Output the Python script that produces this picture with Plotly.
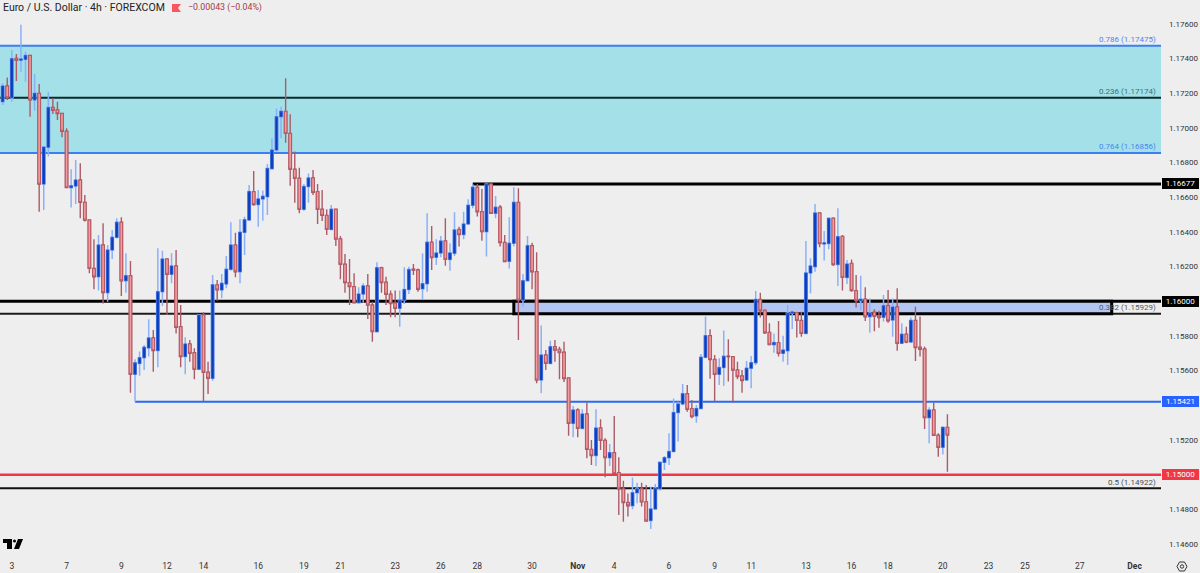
import plotly.graph_objects as go

# EUR/USD 4h candles
opens = [
    1.17152, 1.17242, 1.17175, 1.17402, 1.17391, 1.17396, 1.17419, 1.17162, 1.17200, 1.16677,
    1.16889, 1.17119, 1.17104, 1.17084, 1.16981, 1.16656, 1.16665, 1.16700, 1.16571, 1.16469,
    1.16190, 1.16142, 1.16325, 1.16050, 1.16296, 1.16369, 1.16456, 1.16119, 1.16148, 1.15579,
    1.15642, 1.15675, 1.15731, 1.15789, 1.15716, 1.16056, 1.16244, 1.16156, 1.16204, 1.15854,
    1.15681, 1.15754, 1.15704, 1.15608, 1.15921, 1.15591, 1.15556, 1.16095, 1.16066, 1.16100,
    1.16185, 1.16325, 1.16171, 1.16398, 1.16469, 1.16633, 1.16558, 1.16591, 1.16604, 1.16765,
    1.16873, 1.17065, 1.17096, 1.16969, 1.16762, 1.16710, 1.16531, 1.16662, 1.16712, 1.16633,
    1.16531, 1.16496, 1.16415, 1.16531, 1.16360, 1.16214, 1.16108, 1.16085, 1.15992, 1.16042,
    1.16089, 1.15979, 1.15825, 1.16194, 1.16110, 1.16041, 1.15990, 1.15960, 1.16006, 1.16068,
    1.16185, 1.16181, 1.16073, 1.16102, 1.16341, 1.16254, 1.16279, 1.16348, 1.16242, 1.16277,
    1.16414, 1.16385, 1.16446, 1.16554, 1.16658, 1.16517, 1.16402, 1.16677, 1.16508, 1.16543,
    1.16339, 1.16231, 1.16335, 1.16571, 1.16008, 1.16119, 1.16321, 1.16171, 1.15546, 1.15690,
    1.15642, 1.15738, 1.15723, 1.15706, 1.15558, 1.15296, 1.15373, 1.15267, 1.15350, 1.15146,
    1.15110, 1.15269, 1.15198, 1.15098, 1.15127, 1.15012, 1.14918, 1.14839, 1.14821, 1.14896,
    1.14918, 1.14843, 1.14735, 1.14802, 1.14919, 1.15071, 1.15098, 1.15133, 1.15358, 1.15408,
    1.15467, 1.15381, 1.15339, 1.15381, 1.15677, 1.15802, 1.15664, 1.15579, 1.15618, 1.15683,
    1.15681, 1.15604, 1.15569, 1.15546, 1.15614, 1.15646, 1.16011, 1.15948, 1.15821, 1.15750,
    1.15762, 1.15700, 1.15715, 1.15931, 1.15935, 1.15890, 1.15815, 1.16164, 1.16200, 1.16510,
    1.16331, 1.16333, 1.16479, 1.16212, 1.16375, 1.16138, 1.16219, 1.16062, 1.16004, 1.16013,
    1.15911, 1.15937, 1.15915, 1.15908, 1.15975, 1.15892, 1.15967, 1.15758, 1.15810, 1.15765,
    1.15890, 1.15735, 1.15725, 1.15329, 1.15373, 1.15227, 1.15158, 1.15273,
]
highs = [
    1.17258, 1.17292, 1.17450, 1.17427, 1.17595, 1.17440, 1.17421, 1.17312, 1.17254, 1.16892,
    1.17208, 1.17171, 1.17152, 1.17088, 1.16998, 1.16762, 1.16815, 1.16796, 1.16614, 1.16473,
    1.16358, 1.16383, 1.16450, 1.16325, 1.16412, 1.16479, 1.16485, 1.16277, 1.16233, 1.15666,
    1.15710, 1.15748, 1.15897, 1.15835, 1.16306, 1.16292, 1.16248, 1.16277, 1.16296, 1.15979,
    1.15793, 1.15777, 1.15729, 1.15925, 1.15937, 1.15652, 1.16152, 1.16123, 1.16158, 1.16262,
    1.16456, 1.16396, 1.16473, 1.16488, 1.16671, 1.16752, 1.16642, 1.16639, 1.16792, 1.16941,
    1.17113, 1.17123, 1.17287, 1.17079, 1.16864, 1.16771, 1.16677, 1.16738, 1.16758, 1.16677,
    1.16642, 1.16531, 1.16556, 1.16533, 1.16377, 1.16273, 1.16244, 1.16162, 1.16081, 1.16104,
    1.16158, 1.15998, 1.16225, 1.16200, 1.16142, 1.16062, 1.16062, 1.16062, 1.16196, 1.16200,
    1.16216, 1.16190, 1.16277, 1.16508, 1.16435, 1.16358, 1.16377, 1.16479, 1.16335, 1.16514,
    1.16431, 1.16517, 1.16589, 1.16677, 1.16677, 1.16648, 1.16681, 1.16681, 1.16608, 1.16556,
    1.16383, 1.16485, 1.16658, 1.16652, 1.16158, 1.16377, 1.16338, 1.16283, 1.15860, 1.15719,
    1.15773, 1.15777, 1.15738, 1.15767, 1.15560, 1.15396, 1.15383, 1.15377, 1.15416, 1.15200,
    1.15377, 1.15319, 1.15210, 1.15177, 1.15338, 1.15100, 1.14965, 1.14892, 1.14983, 1.14954,
    1.14954, 1.14941, 1.14931, 1.14946, 1.15075, 1.15108, 1.15239, 1.15440, 1.15421, 1.15523,
    1.15517, 1.15431, 1.15402, 1.15696, 1.15912, 1.15839, 1.15690, 1.15671, 1.15831, 1.15781,
    1.15685, 1.15652, 1.15604, 1.15656, 1.15685, 1.16060, 1.16050, 1.15954, 1.15873, 1.15815,
    1.15887, 1.15802, 1.15979, 1.15946, 1.15940, 1.15940, 1.16348, 1.16248, 1.16562, 1.16512,
    1.16406, 1.16483, 1.16485, 1.16537, 1.16383, 1.16238, 1.16242, 1.16152, 1.16148, 1.16081,
    1.16017, 1.15954, 1.15946, 1.16037, 1.16065, 1.16017, 1.16075, 1.15873, 1.15854, 1.15906,
    1.15969, 1.15912, 1.15739, 1.15389, 1.15417, 1.15239, 1.15277, 1.15348,
]
lows = [
    1.17133, 1.17162, 1.17152, 1.17271, 1.17325, 1.17267, 1.17065, 1.17100, 1.16517, 1.16527,
    1.16835, 1.17081, 1.17046, 1.16946, 1.16652, 1.16542, 1.16562, 1.16479, 1.16460, 1.16162,
    1.16069, 1.16062, 1.15988, 1.15998, 1.16244, 1.16363, 1.16031, 1.16050, 1.15473, 1.15421,
    1.15571, 1.15604, 1.15681, 1.15594, 1.15620, 1.15973, 1.15921, 1.16104, 1.15815, 1.15620,
    1.15579, 1.15652, 1.15550, 1.15604, 1.15421, 1.15466, 1.15542, 1.16004, 1.16018, 1.16075,
    1.16177, 1.16139, 1.16104, 1.16267, 1.16465, 1.16552, 1.16431, 1.16465, 1.16498, 1.16762,
    1.16864, 1.16941, 1.16915, 1.16667, 1.16569, 1.16508, 1.16523, 1.16569, 1.16613, 1.16446,
    1.16464, 1.16383, 1.16411, 1.16319, 1.16127, 1.16050, 1.15979, 1.15988, 1.15988, 1.15992,
    1.15898, 1.15767, 1.15821, 1.16050, 1.15979, 1.15908, 1.15908, 1.15854, 1.15985, 1.16042,
    1.16152, 1.16056, 1.16008, 1.16056, 1.16181, 1.16210, 1.16254, 1.16206, 1.16177, 1.16262,
    1.16316, 1.16358, 1.16444, 1.16537, 1.16489, 1.16350, 1.16258, 1.16504, 1.16479, 1.16316,
    1.16225, 1.16189, 1.16316, 1.15777, 1.15969, 1.16114, 1.16069, 1.15527, 1.15469, 1.15604,
    1.15639, 1.15652, 1.15550, 1.15535, 1.15225, 1.15216, 1.15216, 1.15262, 1.15094, 1.15056,
    1.15050, 1.15142, 1.14985, 1.15050, 1.15004, 1.14767, 1.14729, 1.14758, 1.14800, 1.14835,
    1.14816, 1.14729, 1.14687, 1.14800, 1.14908, 1.15027, 1.15056, 1.15129, 1.15192, 1.15400,
    1.15363, 1.15325, 1.15300, 1.15377, 1.15671, 1.15554, 1.15421, 1.15517, 1.15512, 1.15537,
    1.15415, 1.15550, 1.15473, 1.15543, 1.15498, 1.15633, 1.15906, 1.15812, 1.15746, 1.15704,
    1.15681, 1.15652, 1.15633, 1.15840, 1.15792, 1.15796, 1.15812, 1.16046, 1.16171, 1.16312,
    1.16235, 1.16300, 1.16204, 1.16089, 1.16062, 1.16100, 1.16056, 1.15965, 1.15950, 1.15887,
    1.15819, 1.15827, 1.15848, 1.15883, 1.15877, 1.15796, 1.15715, 1.15754, 1.15758, 1.15762,
    1.15656, 1.15681, 1.15264, 1.15181, 1.15223, 1.15104, 1.15117, 1.15017,
]
closes = [
    1.17242, 1.17175, 1.17400, 1.17391, 1.17398, 1.17419, 1.17162, 1.17200, 1.16677, 1.16890,
    1.17119, 1.17102, 1.17083, 1.16981, 1.16656, 1.16667, 1.16700, 1.16571, 1.16469, 1.16190,
    1.16142, 1.16325, 1.16050, 1.16296, 1.16369, 1.16456, 1.16119, 1.16148, 1.15579, 1.15645,
    1.15675, 1.15735, 1.15789, 1.15716, 1.16056, 1.16244, 1.16156, 1.16204, 1.15850, 1.15681,
    1.15754, 1.15700, 1.15608, 1.15921, 1.15591, 1.15556, 1.16095, 1.16066, 1.16104, 1.16185,
    1.16325, 1.16171, 1.16398, 1.16471, 1.16633, 1.16558, 1.16591, 1.16606, 1.16767, 1.16873,
    1.17065, 1.17096, 1.16969, 1.16762, 1.16710, 1.16531, 1.16662, 1.16712, 1.16629, 1.16531,
    1.16496, 1.16415, 1.16531, 1.16360, 1.16214, 1.16108, 1.16085, 1.15992, 1.16042, 1.16089,
    1.15979, 1.15825, 1.16194, 1.16108, 1.16041, 1.15987, 1.15960, 1.16006, 1.16068, 1.16183,
    1.16181, 1.16069, 1.16102, 1.16341, 1.16252, 1.16279, 1.16348, 1.16242, 1.16279, 1.16412,
    1.16385, 1.16446, 1.16554, 1.16658, 1.16517, 1.16402, 1.16677, 1.16508, 1.16543, 1.16339,
    1.16229, 1.16335, 1.16571, 1.16008, 1.16119, 1.16321, 1.16171, 1.15546, 1.15690, 1.15642,
    1.15738, 1.15719, 1.15704, 1.15554, 1.15296, 1.15373, 1.15267, 1.15350, 1.15146, 1.15110,
    1.15269, 1.15198, 1.15098, 1.15127, 1.15006, 1.14918, 1.14839, 1.14821, 1.14896, 1.14918,
    1.14843, 1.14733, 1.14802, 1.14921, 1.15071, 1.15098, 1.15133, 1.15358, 1.15408, 1.15467,
    1.15377, 1.15335, 1.15381, 1.15677, 1.15802, 1.15664, 1.15579, 1.15618, 1.15683, 1.15681,
    1.15604, 1.15566, 1.15543, 1.15614, 1.15646, 1.16011, 1.15946, 1.15819, 1.15750, 1.15762,
    1.15700, 1.15719, 1.15931, 1.15939, 1.15890, 1.15815, 1.16164, 1.16204, 1.16510, 1.16333,
    1.16337, 1.16479, 1.16212, 1.16373, 1.16138, 1.16215, 1.16062, 1.16004, 1.16012, 1.15911,
    1.15931, 1.15913, 1.15906, 1.15975, 1.15888, 1.15967, 1.15758, 1.15810, 1.15765, 1.15890,
    1.15733, 1.15723, 1.15329, 1.15373, 1.15227, 1.15158, 1.15273, 1.15229,
]

# bar numbers where the date labels sit (the axis skips weekends)
date_ticks = [2, 14, 26, 36, 44, 56, 66, 74, 86, 96, 104, 116, 126, 134, 146, 156, 164, 176,
              186, 194, 206, 216, 224, 236, 248]
date_labels = ["3", "7", "9", "12", "14", "16", "19", "21", "23", "26", "28", "30", "<b>Nov</b>",
               "4", "6", "9", "11", "13", "16", "18", "20", "23", "25", "27", "<b>Dec</b>"]
# 1.150, 1.154 and 1.160 sit behind the price tags, so they are left out
price_ticks = [1.146, 1.148, 1.152, 1.156, 1.158,
               1.162, 1.164, 1.166, 1.168, 1.170, 1.172, 1.174, 1.176]

# fib levels
fib_names = ["0.786", "0.236", "0.764", "0.382", "0.5"]
fib_prices = [1.17475, 1.17174, 1.16856, 1.15929, 1.14922]
fib_colors = ["#4d84f2", "#3f6f78", "#4d84f2", "#5a5a5a", "#4f4f4f"]

# price tags on the right axis
tag_prices = [1.16677, 1.16000, 1.15421, 1.15000]
tag_colors = ["#000000", "#000000", "#2962ff", "#f23645"]

FONT = "Roboto"
W = 1200
H = 573
PLOT_W = 1161
PLOT_H = 552
XR = [-0.585, 253.8]
YR = [1.145538, 1.177385]


def px(x):
    return x / PLOT_W


def py(y):
    return 1 - y / PLOT_H


def poly(points):
    return "M" + "L".join(f"{px(a):.5f},{py(b):.5f}" for a, b in points) + "Z"


bars = list(range(len(opens)))
tops = [max(a, b) for a, b in zip(opens, closes)]
bottoms = [min(a, b) for a, b in zip(opens, closes)]

fig = go.Figure()
# wicks are paler than the bodies, so the bodies get their own trace on top
fig.add_trace(go.Candlestick(
    x=bars, open=opens, high=highs, low=lows, close=closes,
    increasing=dict(line=dict(color="#8cb0f8", width=1.5), fillcolor="#8cb0f8"),
    decreasing=dict(line=dict(color="#ab5c68", width=1.4), fillcolor="#ab5c68"),
    hoverinfo="skip", showlegend=False,
))
fig.add_trace(go.Candlestick(
    x=bars, open=opens, high=tops, low=bottoms, close=closes,
    increasing=dict(line=dict(color="#2459d8", width=0.7), fillcolor="#0b3cb5"),
    decreasing=dict(line=dict(color="#b04a58", width=0.7), fillcolor="#f29d9d"),
    hoverinfo="skip", showlegend=False,
))

shapes = []


def hline(y, color, width, x0=None):
    # x0 is a bar number when the line starts at a bar, otherwise full width
    start = 0 if x0 is None else (x0 - XR[0]) / (XR[1] - XR[0])
    shapes.append(dict(type="line", xref="paper", x0=start, x1=1, yref="y", y0=y, y1=y, layer="below",
                       line=dict(color=color, width=width)))


# cyan zone between the 0.786 and 0.764
shapes.append(dict(type="rect", xref="paper", x0=0, x1=1, yref="y", y0=fib_prices[2], y1=fib_prices[0],
                   fillcolor="#a3e0e7", line_width=0, layer="below"))
hline(fib_prices[0], "#3d7ff0", 2)
hline(fib_prices[2], "#3d7ff0", 2)
hline(fib_prices[1], "#0c2a2c", 2)
hline(1.16677, "#000000", 3, x0=103)
# blue box, then the two long black lines
shapes.append(dict(type="rect", xref="x", x0=112, x1=243, yref="y", y0=1.15929, y1=1.16000,
                   fillcolor="#b3c6f2", line=dict(color="#000000", width=3), layer="below"))
hline(1.16000, "#000000", 3)
hline(fib_prices[3], "#1c1c1c", 2)
hline(1.15421, "#2a68f5", 2, x0=29)
hline(1.15000, "#f23645", 2.5)
hline(fib_prices[4], "#111111", 2)

# flag next to the title
shapes.append(dict(type="path", xref="paper", yref="paper", layer="above", line_width=0, fillcolor="#f9575f",
                   path=poly([(172, 4), (181, 4), (178, 8), (181, 12), (172, 12)])))
# TradingView logo
shapes.append(dict(type="path", xref="paper", yref="paper", layer="above", line_width=0, fillcolor="#000000",
                   path=poly([(3, 539), (12, 539), (12, 549), (7, 549), (7, 543), (3, 543)])))
shapes.append(dict(type="circle", xref="paper", yref="paper", layer="above", line_width=0, fillcolor="#000000",
                   x0=px(13), x1=px(16), y0=py(542.5), y1=py(539.5)))
shapes.append(dict(type="path", xref="paper", yref="paper", layer="above", line_width=0, fillcolor="#000000",
                   path=poly([(18, 539), (23, 539), (19, 549), (14, 549)])))
# settings gear at the bottom right
shapes.append(dict(type="path", xref="paper", yref="paper", layer="above", fillcolor="rgba(0,0,0,0)",
                   line=dict(color="#333333", width=1),
                   path=poly([(1177, 566.5), (1179.5, 562), (1184.5, 562), (1187, 566.5), (1184.5, 571), (1179.5, 571)])))
shapes.append(dict(type="circle", xref="paper", yref="paper", layer="above", fillcolor="rgba(0,0,0,0)",
                   line=dict(color="#333333", width=1), x0=px(1180.3), x1=px(1183.7), y0=py(568.2), y1=py(564.8)))

annotations = []
annotations.append(dict(text="Euro / U.S. Dollar · 4h · FOREXCOM", xref="paper", yref="paper", x=px(1), y=py(8),
                        xanchor="left", yanchor="middle", showarrow=False,
                        font=dict(family=FONT, size=10.5, color="#222222")))
annotations.append(dict(text="−0.00043 (−0.04%)", xref="paper", yref="paper", x=px(186), y=py(8),
                        xanchor="left", yanchor="middle", showarrow=False,
                        font=dict(family=FONT, size=8.8, color="#a83a48")))
for name, price, color in zip(fib_names, fib_prices, fib_colors):
    annotations.append(dict(text=f"{name} ({price:.5f})", xref="paper", yref="y", x=px(1158), y=price,
                            xanchor="right", yanchor="bottom", yshift=-0.5, showarrow=False,
                            font=dict(family=FONT, size=8, color=color)))
for price, color in zip(tag_prices, tag_colors):
    annotations.append(dict(text=f"{price:.5f}", xref="paper", yref="y", x=px(1162.3), y=price,
                            xanchor="left", yanchor="middle", showarrow=False, bgcolor=color,
                            width=37, height=11, borderpad=0, borderwidth=0, align="center",
                            font=dict(family=FONT, size=8, color="#ffffff")))

fig.update_layout(
    width=W, height=H,
    margin=dict(l=0, r=W - PLOT_W, t=0, b=H - PLOT_H),
    paper_bgcolor="#eeeeee", plot_bgcolor="#eeeeee",
    shapes=shapes, annotations=annotations,
    xaxis=dict(range=XR, rangeslider=dict(visible=False), showgrid=False, zeroline=False, showline=False,
               tickmode="array", tickvals=date_ticks, ticktext=date_labels, ticks="", ticklabelstandoff=7,
               tickfont=dict(family=FONT, size=8.5, color="#333333")),
    yaxis=dict(range=YR, side="right", showgrid=False, zeroline=False, showline=False,
               tickmode="array", tickvals=price_ticks, tickformat=".5f", ticks="", ticklabelstandoff=7,
               tickfont=dict(family=FONT, size=8, color="#333333")),
    boxgap=0.22,
)

# the page's default body margin would push the 1200x573 figure off by 8px
fig.write_html("out.html", config={"displayModeBar": False},
               post_script="document.body.style.margin='0';document.body.style.overflow='hidden';")
